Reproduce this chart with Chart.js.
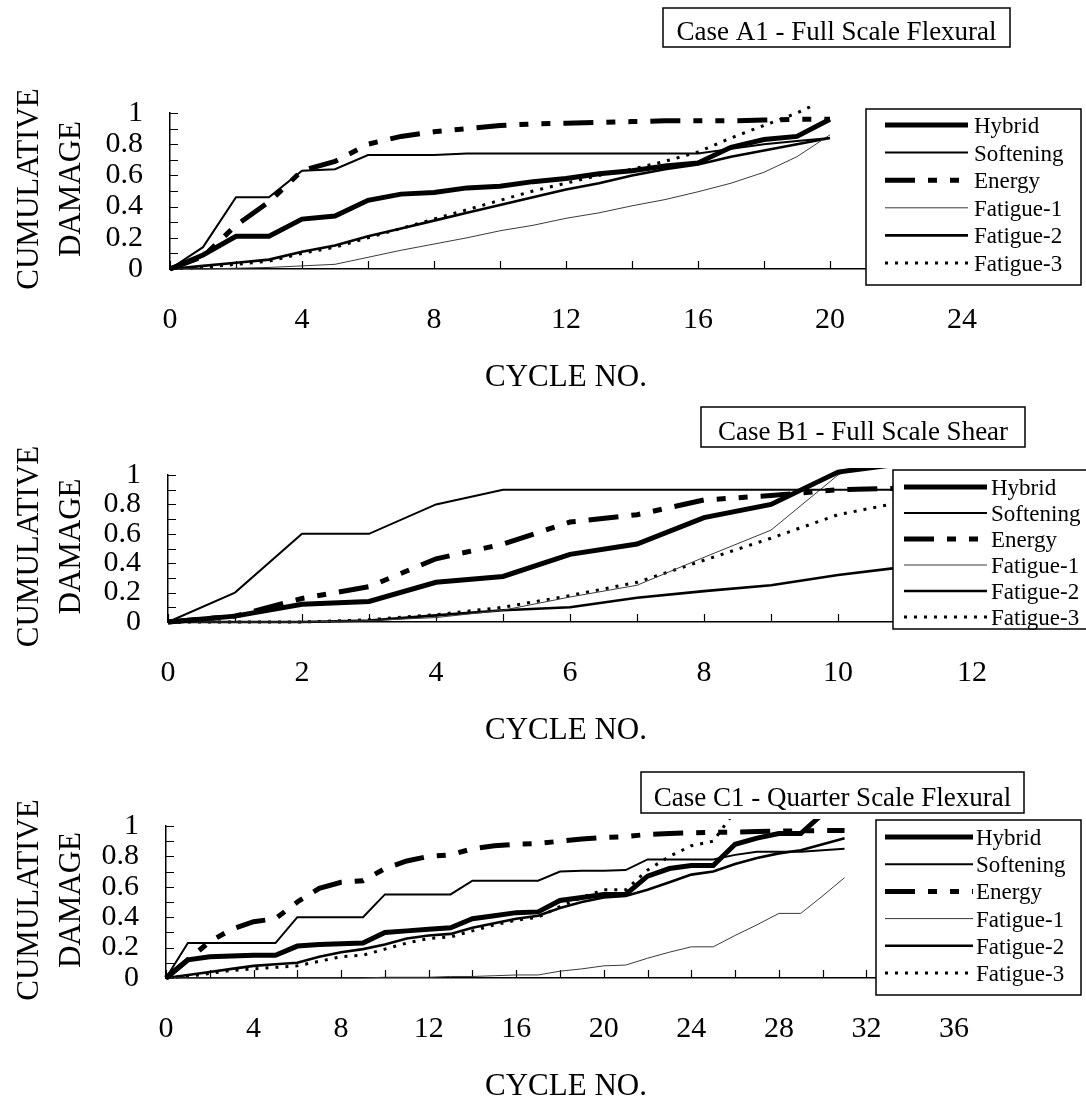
<!DOCTYPE html>
<html>
<head>
<meta charset="utf-8">
<script src="https://cdn.jsdelivr.net/npm/chart.js@4.4.1/dist/chart.umd.min.js"></script>
<style>
  html, body { margin: 0; padding: 0; background: #fff; }
  #page { position: relative; width: 1086px; height: 1102px; background: #fff; overflow: hidden; }
  #page canvas { position: absolute; left: 0; }
</style>
</head>
<body>
<div id="page">
  <canvas id="chartA" width="1086" height="400" style="top:0"></canvas>
  <canvas id="chartB" width="1086" height="380" style="top:370px"></canvas>
  <canvas id="chartC" width="1086" height="362" style="top:740px"></canvas>
</div>
<script>
// ---- data ----
const seriesNames = ['Hybrid', 'Softening', 'Energy', 'Fatigue-1', 'Fatigue-2', 'Fatigue-3'];

// Case A1 - Full Scale Flexural
const cyclesA = [0, 1, 2, 3, 4, 5, 6, 7, 8, 9, 10, 11, 12, 13, 14, 15, 16, 17, 18, 19, 20];
const hybridA    = [0, 0.09, 0.21, 0.21, 0.32, 0.34, 0.44, 0.48, 0.49, 0.52, 0.53, 0.56, 0.58, 0.61, 0.63, 0.66, 0.68, 0.78, 0.83, 0.85, 0.96];
const softeningA = [0, 0.14, 0.46, 0.46, 0.63, 0.64, 0.73, 0.73, 0.73, 0.74, 0.74, 0.74, 0.74, 0.74, 0.74, 0.74, 0.74, 0.77, 0.8, 0.82, 0.84];
const energyA    = [0, 0.08, 0.28, 0.43, 0.63, 0.69, 0.8, 0.85, 0.88, 0.9, 0.92, 0.93, 0.935, 0.94, 0.945, 0.95, 0.95, 0.95, 0.955, 0.96, 0.96];
const fatigue1A  = [0, 0, 0.005, 0.01, 0.02, 0.03, 0.075, 0.12, 0.16, 0.2, 0.245, 0.28, 0.325, 0.36, 0.405, 0.445, 0.495, 0.55, 0.62, 0.72, 0.86];
const fatigue2A  = [0, 0.02, 0.04, 0.06, 0.11, 0.15, 0.21, 0.26, 0.31, 0.36, 0.41, 0.46, 0.51, 0.55, 0.6, 0.64, 0.67, 0.72, 0.76, 0.8, 0.84];
const fatigue3A  = [0, 0.01, 0.03, 0.05, 0.1, 0.14, 0.2, 0.26, 0.32, 0.38, 0.44, 0.5, 0.55, 0.6, 0.64, 0.69, 0.75, 0.84, 0.92, 1.0, 1.1];

// Case B1 - Full Scale Shear
const cyclesB = [0, 1, 2, 3, 4, 5, 6, 7, 8, 9, 10, 11];
const hybridB    = [0, 0.04, 0.12, 0.14, 0.27, 0.31, 0.46, 0.53, 0.71, 0.8, 1.02, 1.08];
const softeningB = [0, 0.2, 0.6, 0.6, 0.8, 0.9, 0.9, 0.9, 0.9, 0.9, 0.9, 0.9];
const energyB    = [0, 0.04, 0.16, 0.24, 0.43, 0.53, 0.68, 0.73, 0.83, 0.86, 0.9, 0.91];
const fatigue1B  = [0, 0, 0, 0.01, 0.03, 0.08, 0.17, 0.25, 0.44, 0.625, 1.0, 1.2];
const fatigue2B  = [0, 0, 0, 0.01, 0.045, 0.08, 0.1, 0.165, 0.21, 0.25, 0.32, 0.375];
const fatigue3B  = [0, 0, 0, 0.015, 0.05, 0.1, 0.18, 0.27, 0.42, 0.57, 0.73, 0.82];

// Case C1 - Quarter Scale Flexural
const cyclesC = [0, 1, 2, 3, 4, 5, 6, 7, 8, 9, 10, 11, 12, 13, 14, 15, 16, 17, 18, 19, 20, 21, 22, 23, 24, 25, 26, 27, 28, 29, 30, 31];
const hybridC    = [0, 0.12, 0.14, 0.145, 0.15, 0.15, 0.21, 0.22, 0.225, 0.23, 0.3, 0.31, 0.32, 0.33, 0.39, 0.41, 0.43, 0.435, 0.51, 0.53, 0.55, 0.55, 0.67, 0.72, 0.74, 0.74, 0.88, 0.92, 0.95, 0.95, 1.08];
const softeningC = [0, 0.23, 0.23, 0.23, 0.23, 0.23, 0.4, 0.4, 0.4, 0.4, 0.55, 0.55, 0.55, 0.55, 0.64, 0.64, 0.64, 0.64, 0.7, 0.705, 0.705, 0.71, 0.78, 0.78, 0.78, 0.78, 0.81, 0.83, 0.83, 0.83, 0.84, 0.85];
const energyC    = [0, 0.12, 0.24, 0.32, 0.37, 0.39, 0.5, 0.59, 0.63, 0.64, 0.72, 0.77, 0.8, 0.81, 0.85, 0.87, 0.88, 0.885, 0.9, 0.915, 0.925, 0.93, 0.945, 0.95, 0.955, 0.958, 0.96, 0.963, 0.966, 0.968, 0.97, 0.97];
const fatigue1C  = [0, 0, 0, 0, 0, 0, 0, 0, 0, 0, 0.005, 0.005, 0.005, 0.01, 0.01, 0.015, 0.02, 0.02, 0.045, 0.06, 0.08, 0.085, 0.13, 0.17, 0.205, 0.205, 0.28, 0.35, 0.425, 0.425, 0.54, 0.66];
const fatigue2C  = [0, 0.02, 0.04, 0.06, 0.08, 0.09, 0.1, 0.14, 0.17, 0.19, 0.22, 0.26, 0.28, 0.29, 0.33, 0.36, 0.39, 0.41, 0.46, 0.5, 0.53, 0.54, 0.58, 0.63, 0.68, 0.7, 0.75, 0.79, 0.82, 0.84, 0.88, 0.92];
const fatigue3C  = [0, 0.01, 0.03, 0.05, 0.06, 0.07, 0.08, 0.11, 0.14, 0.15, 0.19, 0.23, 0.26, 0.27, 0.31, 0.35, 0.38, 0.4, 0.47, 0.53, 0.58, 0.58, 0.71, 0.8, 0.87, 0.9, 1.1];

const yTitle = ['CUMULATIVE', 'DAMAGE'];
const xTitle = 'CYCLE NO.';

// ---- look ----
const SERIF = "'Liberation Serif', 'Times New Roman', Times, serif";
Chart.defaults.font.family = SERIF;
Chart.defaults.color = '#000';

const lineStyles = {
  'Hybrid':    { borderWidth: 5,   borderDash: [] },
  'Softening': { borderWidth: 2,   borderDash: [] },
  'Energy':    { borderWidth: 5,   borderDash: [30, 13, 9, 13, 9, 13] },
  'Fatigue-1': { borderWidth: 1,   borderDash: [], borderColor: '#3a3a3a' },
  'Fatigue-2': { borderWidth: 2.6, borderDash: [] },
  'Fatigue-3': { borderWidth: 3,   borderDash: [3, 7] }
};

function makeDatasets(cycles, lists){
  return lists.map((vals, i) => {
    const name = seriesNames[i];
    const st = lineStyles[name];
    return {
      label: name,
      data: vals.map((v, k) => ({ x: cycles[k], y: v })),
      borderColor: st.borderColor || '#000',
      borderWidth: st.borderWidth,
      borderDash: st.borderDash,
      borderCapStyle: 'butt',
      pointRadius: 0,
      tension: 0,
      fill: false,
      clip: { left: 4, top: 7, right: 4, bottom: 4 }
    };
  });
}

// inward tick marks on both axes
const innerTicks = {
  id: 'innerTicks',
  beforeDatasetsDraw(chart){
    const { ctx, chartArea: a, scales: { x, y } } = chart;
    ctx.save();
    ctx.strokeStyle = '#000';
    ctx.lineWidth = 1.2;
    ctx.beginPath();
    x.ticks.forEach(t => {
      const px = Math.round(x.getPixelForValue(t.value)) + 0.5;
      ctx.moveTo(px, a.bottom); ctx.lineTo(px, a.bottom - 8);
    });
    y.ticks.forEach(t => {
      const py = Math.round(y.getPixelForValue(t.value)) + 0.5;
      ctx.moveTo(a.left, py); ctx.lineTo(a.left + 8, py);
    });
    ctx.stroke();
    ctx.restore();
  }
};

// case title box, legend box and axis titles
const decor = {
  id: 'decor',
  afterDraw(chart, args, opts){
    const { ctx, chartArea: a } = chart;
    ctx.save();
    ctx.fillStyle = '#000';
    ctx.strokeStyle = '#000';

    // y axis title, two rotated lines
    ctx.font = `31px ${SERIF}`;
    ctx.textAlign = 'center';
    ctx.textBaseline = 'alphabetic';
    const cy = (a.top + a.bottom) / 2 - 2;
    [38, 80].forEach((bx, i) => {
      ctx.save();
      ctx.translate(bx, cy);
      ctx.rotate(-Math.PI / 2);
      ctx.fillText(yTitle[i], 0, 0);
      ctx.restore();
    });

    // x axis title
    ctx.fillText(xTitle, 566, a.bottom + 117);

    // case title box
    const tb = opts.titleBox;
    ctx.fillStyle = '#fff';
    ctx.fillRect(tb.x1, tb.y1, tb.x2 - tb.x1, tb.y2 - tb.y1);
    ctx.lineWidth = 1.5;
    ctx.strokeRect(tb.x1, tb.y1, tb.x2 - tb.x1, tb.y2 - tb.y1);
    ctx.fillStyle = '#000';
    ctx.font = `27px ${SERIF}`;
    ctx.fillText(opts.title, (tb.x1 + tb.x2) / 2, tb.y2 - 7.5);

    // legend box (covers the lines under it)
    const lg = opts.legendBox;
    ctx.fillStyle = '#fff';
    ctx.fillRect(lg.x1, lg.y1, lg.x2 - lg.x1, lg.y2 - lg.y1);
    ctx.lineWidth = 1.5;
    ctx.strokeRect(lg.x1, lg.y1, lg.x2 - lg.x1, lg.y2 - lg.y1);
    ctx.font = `23px ${SERIF}`;
    ctx.textAlign = 'left';
    chart.data.datasets.forEach((ds, i) => {
      const ly = lg.rowY0 + i * lg.rowGap;
      ctx.save();
      ctx.strokeStyle = ds.borderColor;
      ctx.lineWidth = ds.borderWidth;
      ctx.setLineDash(ds.borderDash);
      ctx.lineCap = 'butt';
      ctx.beginPath();
      ctx.moveTo(lg.lineX1, ly);
      ctx.lineTo(lg.lineX2, ly);
      ctx.stroke();
      ctx.restore();
      ctx.fillStyle = '#000';
      ctx.fillText(ds.label, lg.textX, ly + 8);
    });
    ctx.restore();
  }
};

function buildChart(id, cycles, lists, cfg){
  const canvas = document.getElementById(id);
  const W = canvas.width, H = canvas.height;
  const ar = cfg.area;
  const xH = 60;
  const tickFont = { size: 30, family: SERIF };
  return new Chart(canvas.getContext('2d'), {
    type: 'line',
    data: { datasets: makeDatasets(cycles, lists) },
    options: {
      responsive: false,
      animation: false,
      events: [],
      layout: { padding: { left: 0, top: ar.top, right: W - ar.right, bottom: H - ar.bottom - xH } },
      plugins: {
        legend: { display: false },
        tooltip: { enabled: false },
        decor: { title: cfg.title, titleBox: cfg.titleBox, legendBox: cfg.legendBox }
      },
      scales: {
        x: {
          type: 'linear', min: 0, max: cfg.xMax,
          afterFit: s => { s.height = xH; },
          grid: { display: false, drawTicks: false },
          border: { display: true, color: '#000', width: 1.5 },
          ticks: {
            stepSize: cfg.xStep, autoSkip: false, maxRotation: 0, padding: 33,
            font: tickFont, color: '#000',
            callback: v => (v % cfg.xLabelEvery === 0 ? String(v) : '')
          }
        },
        y: {
          min: 0, max: 1,
          afterFit: s => { s.width = ar.left; },
          grid: { display: false, drawTicks: false },
          border: { display: true, color: '#000', width: 1.5 },
          ticks: {
            stepSize: 0.1, autoSkip: false, padding: 27,
            font: tickFont, color: '#000',
            callback: v => { const k = Math.round(v * 10); return k % 2 === 0 ? String(k / 10) : ''; }
          }
        }
      }
    },
    plugins: [innerTicks, decor]
  });
}

buildChart('chartA', cyclesA, [hybridA, softeningA, energyA, fatigue1A, fatigue2A, fatigue3A], {
  title: 'Case A1 - Full Scale Flexural',
  area: { left: 170, right: 962, top: 113, bottom: 269 },
  xMax: 24, xStep: 2, xLabelEvery: 4,
  titleBox: { x1: 663, y1: 8, x2: 1010, y2: 47 },
  legendBox: { x1: 866, y1: 109, x2: 1081, y2: 285, rowY0: 125, rowGap: 27.6, lineX1: 885, lineX2: 968, textX: 974 }
});

buildChart('chartB', cyclesB, [hybridB, softeningB, energyB, fatigue1B, fatigue2B, fatigue3B], {
  title: 'Case B1 - Full Scale Shear',
  area: { left: 168, right: 972, top: 105, bottom: 252 },
  xMax: 12, xStep: 1, xLabelEvery: 2,
  titleBox: { x1: 701, y1: 37, x2: 1025, y2: 77 },
  legendBox: { x1: 893, y1: 100, x2: 1100, y2: 259, rowY0: 117, rowGap: 26, lineX1: 904, lineX2: 987, textX: 991 }
});

buildChart('chartC', cyclesC, [hybridC, softeningC, energyC, fatigue1C, fatigue2C, fatigue3C], {
  title: 'Case C1 - Quarter Scale Flexural',
  area: { left: 166, right: 954, top: 86, bottom: 238 },
  xMax: 36, xStep: 2, xLabelEvery: 4,
  titleBox: { x1: 641, y1: 32, x2: 1024, y2: 73 },
  legendBox: { x1: 876, y1: 80, x2: 1081, y2: 255, rowY0: 97, rowGap: 27.2, lineX1: 885, lineX2: 973, textX: 976 }
});
</script>
</body>
</html>
